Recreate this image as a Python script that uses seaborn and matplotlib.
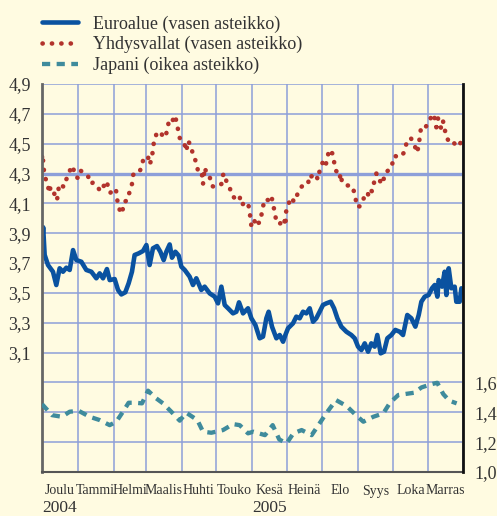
# Korot: euroalue, Yhdysvallat ja Japani, joulu 2004 - marras 2005
# Arvot luettu kuvasta silmamaaraisesti

import pandas as pd
import matplotlib
matplotlib.use("Agg")
import matplotlib.pyplot as plt
import matplotlib.dates as mdates
import matplotlib.ticker as mticker
import matplotlib.transforms as mtransforms
import seaborn as sns

alku = pd.Timestamp("2004-12-01")
loppu = pd.Timestamp("2005-12-01")

# =========================================================
# Data (paivia alusta laskien)
# =========================================================
euro_paiva = [0, 1, 2.3, 5.2, 9.5, 12.4, 15.3, 18.2, 21.1, 24,
              26.9, 29.8, 34.1, 38.4, 42.8, 47.1, 50, 52.9, 56.3, 58.7,
              63, 65.9, 68.8, 72.2, 75.1, 78, 80.3, 83.8, 87.6, 90.5,
              93.3, 96.2, 99.7, 102.6, 105.5, 107.8, 110.7, 112.7, 115.6, 118.5,
              120.8, 123.7, 128, 130.9, 133.8, 138.1, 141, 145.4, 149.7, 152.6,
              155.5, 158.4, 161.3, 165.6, 168.5, 170.8, 174.3, 178.6, 181.5, 185,
              188.7, 191.6, 194.5, 196.5, 199.4, 203.2, 206.1, 209, 211, 213.3,
              217.6, 220.5, 223.4, 226.3, 229.2, 232.1, 235, 237.8, 240.7, 243.6,
              246.5, 250.3, 253.2, 256.1, 259.5, 263.9, 268.2, 271.1, 274, 276.9,
              279.8, 282.7, 285.5, 288.4, 290.7, 293.6, 296.5, 299.4, 302.9, 306.3,
              310.1, 313, 316.7, 320.2, 323.7, 326.6, 328.9, 331.8, 335.2, 338.1,
              340.5, 342.8, 343.9, 346.8, 349.1, 350.6, 352.6, 354.9, 357.8, 359.2,
              362.1, 363.6]
euro_arvo = [3.82, 3.94, 3.755, 3.687, 3.642, 3.553, 3.665, 3.642, 3.669, 3.654,
             3.787, 3.72, 3.709, 3.654, 3.642, 3.598, 3.631, 3.598, 3.66, 3.586,
             3.593, 3.52, 3.49, 3.504, 3.564, 3.642, 3.754, 3.765, 3.781, 3.821,
             3.687, 3.799, 3.814, 3.776, 3.72, 3.776, 3.825, 3.736, 3.776, 3.75,
             3.676, 3.654, 3.609, 3.553, 3.598, 3.52, 3.542, 3.497, 3.475, 3.43,
             3.542, 3.419, 3.397, 3.363, 3.374, 3.437, 3.363, 3.397, 3.33, 3.285,
             3.196, 3.207, 3.33, 3.374, 3.274, 3.196, 3.218, 3.173, 3.218, 3.263,
             3.296, 3.341, 3.33, 3.374, 3.363, 3.397, 3.307, 3.33, 3.374, 3.419,
             3.43, 3.441, 3.397, 3.33, 3.274, 3.24, 3.218, 3.196, 3.14, 3.117,
             3.162, 3.106, 3.162, 3.14, 3.218, 3.095, 3.106, 3.196, 3.218, 3.252,
             3.24, 3.218, 3.352, 3.33, 3.274, 3.352, 3.441, 3.475, 3.486, 3.531,
             3.553, 3.475, 3.586, 3.542, 3.642, 3.486, 3.665, 3.531, 3.542, 3.441,
             3.441, 3.531]

usa_paiva = [0, 0.6, 1, 1.7, 2.9, 5.2, 6.1, 7.5, 11, 13,
             14, 15, 19, 21, 23, 25, 27, 28, 31, 33,
             36, 40, 43, 44, 47, 51, 53, 56, 57, 59,
             64, 65, 66, 69, 70, 71, 74, 76, 78, 79,
             82, 85, 87, 88, 92, 93, 95, 96, 97, 98,
             99, 101, 103, 105, 107, 109, 110, 113, 115, 117,
             118, 119.3, 121, 123.1, 125.1, 126.6, 129.5, 130.9, 132.9, 134.7,
             135.8, 138.7, 139.6, 141, 143.3, 145.4, 146.8, 149.1, 152, 154,
             155.5, 156.9, 158.4, 159.8, 162.7, 164.1, 167.6, 171.4, 172.2, 175.7,
             178, 180, 180.6, 181.5, 182.9, 185, 186.7, 188.7, 190.2, 191.6,
             193.6, 196.5, 198.8, 200.3, 201.7, 203.2, 206.1, 207.5, 209.8, 211,
             211.8, 213.3, 216.2, 218.5, 221.4, 224.8, 227.7, 230.6, 232.1, 233.5,
             236.4, 239.3, 240.7, 243.6, 245.7, 247.4, 248.8, 252.3, 253.2, 254.6,
             256.1, 257.2, 258.1, 259, 260.1, 263.9, 268.2, 270.5, 272, 272.5,
             275.4, 278.3, 279.8, 282.7, 284.1, 286.1, 287.9, 289.9, 292.2, 293.6,
             295.7, 297.1, 300, 302.3, 304.3, 305.8, 308.1, 310.1, 313.9, 315.9,
             319.6, 323.1, 324.8, 326.6, 327.4, 328.3, 330.3, 332.4, 336.1, 338.1,
             340.5, 341.9, 343.3, 344.8, 346.2, 347.7, 349.1, 350.6, 352.6, 354.9,
             356.3, 359.2, 361.3, 363.6]
usa_arvo = [4.41, 4.43, 4.38, 4.32, 4.27, 4.22, 4.17, 4.21, 4.16, 4.12,
            4.18, 4.23, 4.21, 4.26, 4.29, 4.34, 4.35, 4.29, 4.27, 4.32,
            4.31, 4.28, 4.23, 4.24, 4.22, 4.18, 4.21, 4.25, 4.22, 4.17,
            4.20, 4.14, 4.08, 4.03, 4.06, 4.11, 4.12, 4.18, 4.23, 4.29,
            4.32, 4.32, 4.36, 4.41, 4.41, 4.36, 4.39, 4.45, 4.51, 4.52,
            4.56, 4.56, 4.58, 4.54, 4.55, 4.60, 4.66, 4.65, 4.69, 4.64,
            4.59, 4.54, 4.52, 4.51, 4.45, 4.52, 4.48, 4.42, 4.39, 4.34,
            4.29, 4.29, 4.23, 4.34, 4.29, 4.28, 4.22, 4.21, 4.22, 4.22,
            4.23, 4.29, 4.30, 4.25, 4.21, 4.16, 4.13, 4.15, 4.09, 4.10,
            4.11, 4.06, 4.00, 3.95, 3.94, 4.00, 3.97, 3.97, 4.02, 4.08,
            4.13, 4.12, 4.15, 4.10, 4.04, 3.98, 3.96, 3.98, 4.00, 3.95,
            4.06, 4.09, 4.14, 4.11, 4.16, 4.21, 4.23, 4.23, 4.29, 4.28,
            4.30, 4.26, 4.32, 4.38, 4.35, 4.40, 4.46, 4.43, 4.38, 4.32,
            4.31, 4.29, 4.27, 4.30, 4.24, 4.22, 4.22, 4.18, 4.13, 4.08,
            4.08, 4.11, 4.17, 4.16, 4.20, 4.18, 4.24, 4.30, 4.29, 4.23,
            4.24, 4.30, 4.32, 4.33, 4.38, 4.42, 4.41, 4.41, 4.44, 4.50,
            4.54, 4.49, 4.44, 4.48, 4.54, 4.59, 4.62, 4.61, 4.65, 4.70,
            4.67, 4.61, 4.67, 4.63, 4.60, 4.65, 4.60, 4.54, 4.52, 4.50,
            4.51, 4.49, 4.48, 4.52]

japani_paiva = [0, 8.7, 17.3, 24, 31.8, 41.3, 50, 58.7, 64.4, 70.2,
                75.1, 80.9, 86.7, 91.9, 99.1, 104.9, 112.1, 119.4, 125.1, 134.7,
                139.6, 146.8, 156.9, 165.6, 171.4, 178.6, 183.2, 193.3, 200, 205.7,
                212.1, 217.9, 225.1, 233.8, 241, 246.8, 254.9, 264.1, 272.2, 278.6,
                287.2, 295.9, 301.7, 308.9, 322.5, 329.1, 337.8, 342.7, 347.9, 353.1,
                359.5]
japani_arvo = [1.455, 1.381, 1.37, 1.404, 1.41, 1.37, 1.348, 1.314, 1.337, 1.404,
               1.464, 1.464, 1.46, 1.545, 1.493, 1.46, 1.404, 1.344, 1.397, 1.348,
               1.27, 1.263, 1.281, 1.321, 1.314, 1.259, 1.27, 1.247, 1.314, 1.218,
               1.192, 1.259, 1.281, 1.247, 1.33, 1.397, 1.482, 1.442, 1.381, 1.337,
               1.37, 1.393, 1.464, 1.516, 1.531, 1.567, 1.589, 1.598, 1.522, 1.478,
               1.46]

kuukaudet = ["Joulu", "Tammi", "Helmi", "Maalis", "Huhti", "Touko",
             "Kesä", "Heinä", "Elo", "Syys", "Loka", "Marras"]
vuodet = ["2004", "2005"]
vuosi_kk = [0, 6]   # minka kuukauden alle vuosi tulee

vasen_ruudukko = [2.5, 2.7, 2.9, 3.1, 3.3, 3.5, 3.7, 3.9, 4.1, 4.3, 4.5, 4.7, 4.9]
vasen_nakyva = [3.1, 3.3, 3.5, 3.7, 3.9, 4.1, 4.3, 4.5, 4.7, 4.9]
oikea_ticks = [1.0, 1.2, 1.4, 1.6]

nimet = ["Euroalue (vasen asteikko)",
         "Yhdysvallat (vasen asteikko)",
         "Japani (oikea asteikko)"]


def sarja(paivat, arvot):
    return pd.DataFrame({"pvm": alku + pd.to_timedelta(paivat, unit="D"),
                         "arvo": arvot})


df_euro = sarja(euro_paiva, euro_arvo)
df_usa = sarja(usa_paiva, usa_arvo)
df_japani = sarja(japani_paiva, japani_arvo)

# =========================================================
# Tyyli
# =========================================================
tausta = "#fffbe1"
ruudukko = "#8d9fd9"
teksti = "#333333"
sininen = "#0a52a0"
punainen = "#b2332c"
turkoosi = "#3f8b9c"

sns.set_style("white")
plt.rcParams["font.family"] = ["Liberation Serif", "DejaVu Serif"]

fig = plt.figure(figsize=(4.97, 5.16), dpi=100, facecolor=tausta)
ax = fig.add_axes([42 / 497, 44 / 516, 421 / 497, 388 / 516])
ax.set_facecolor(tausta)

sns.lineplot(data=df_euro, x="pvm", y="arvo", ax=ax, color=sininen,
             lw=3.3, estimator=None, label=nimet[0])
sns.lineplot(data=df_usa, x="pvm", y="arvo", ax=ax, color=punainen,
             lw=3.3, estimator=None, label=nimet[1],
             linestyle=(0, (0.05, 2.0)), dash_capstyle="round")

ax2 = ax.twinx()
sns.lineplot(data=df_japani, x="pvm", y="arvo", ax=ax2, color=turkoosi,
             lw=3.1, estimator=None, label=nimet[2],
             linestyle=(0, (1.9, 1.5)), dash_capstyle="butt")

h1, l1 = ax.get_legend_handles_labels()
h2, l2 = ax2.get_legend_handles_labels()
ax.get_legend().remove()
ax2.get_legend().remove()

# Akselit
ax.set_xlim(alku, loppu)
ax.set_ylim(2.3, 4.9)
ax2.set_ylim(1.0, 3.6)
ax.set_xlabel("")
ax.set_ylabel("")
ax2.set_ylabel("")

ax.set_yticks(vasen_ruudukko)
ax.set_yticklabels([f"{v:.1f}".replace(".", ",") if v in vasen_nakyva else ""
                    for v in vasen_ruudukko])
ax2.set_yticks(oikea_ticks)
ax2.set_yticklabels([f"{v:.1f}".replace(".", ",") for v in oikea_ticks])

ax.xaxis.set_major_locator(mdates.MonthLocator())
ax.xaxis.set_major_formatter(mticker.NullFormatter())
kk_alut = pd.date_range(alku, periods=13, freq="MS")
keskikohdat = [kk_alut[i] + (kk_alut[i + 1] - kk_alut[i]) / 2 for i in range(12)]
ax.xaxis.set_minor_locator(mticker.FixedLocator(mdates.date2num(keskikohdat)))
ax.xaxis.set_minor_formatter(mticker.FixedFormatter(kuukaudet))

ax.tick_params(axis="x", which="major", length=5, width=1.3, color="#555555",
               direction="out")
ax.tick_params(axis="x", which="minor", length=0, pad=9, labelsize=10,
               labelcolor=teksti)
ax.tick_params(axis="y", length=0, pad=8, labelsize=13, labelcolor=teksti)
ax2.tick_params(axis="y", length=0, pad=8, labelsize=13, labelcolor=teksti)

# vuodet kuukauden alle
trans = mtransforms.blended_transform_factory(ax.transData, ax.transAxes)
for vuosi, kk in zip(vuodet, vuosi_kk):
    ax.text(mdates.date2num(keskikohdat[kk]), -0.071, vuosi, transform=trans,
            ha="center", va="top", fontsize=12.5, color=teksti)

# Ruudukko
ax.set_axisbelow(True)
ax.grid(True, which="major", color=ruudukko, lw=1.1)
ax.axhline(4.3, color=ruudukko, lw=2.4, zorder=0.6)
ax2.grid(False)

for s in ["top", "right"]:
    ax.spines[s].set_visible(False)
ax.spines["left"].set_color("#666666")
ax.spines["left"].set_linewidth(2)
ax.spines["bottom"].set_color("#555555")
ax.spines["bottom"].set_linewidth(1.5)
for s in ["top", "left", "bottom"]:
    ax2.spines[s].set_visible(False)
ax2.spines["right"].set_color("#111111")
ax2.spines["right"].set_linewidth(2)

# Selite kuvan ylaosaan
fig.legend(h1 + h2, l1 + l2, loc="upper left", bbox_to_anchor=(42 / 497, 0.97),
           frameon=False, fontsize=13, handlelength=2.0, handletextpad=0.85,
           labelspacing=0.18, borderpad=0, borderaxespad=0, labelcolor=teksti)

fig.savefig("out.png", dpi=100, facecolor=tausta)
